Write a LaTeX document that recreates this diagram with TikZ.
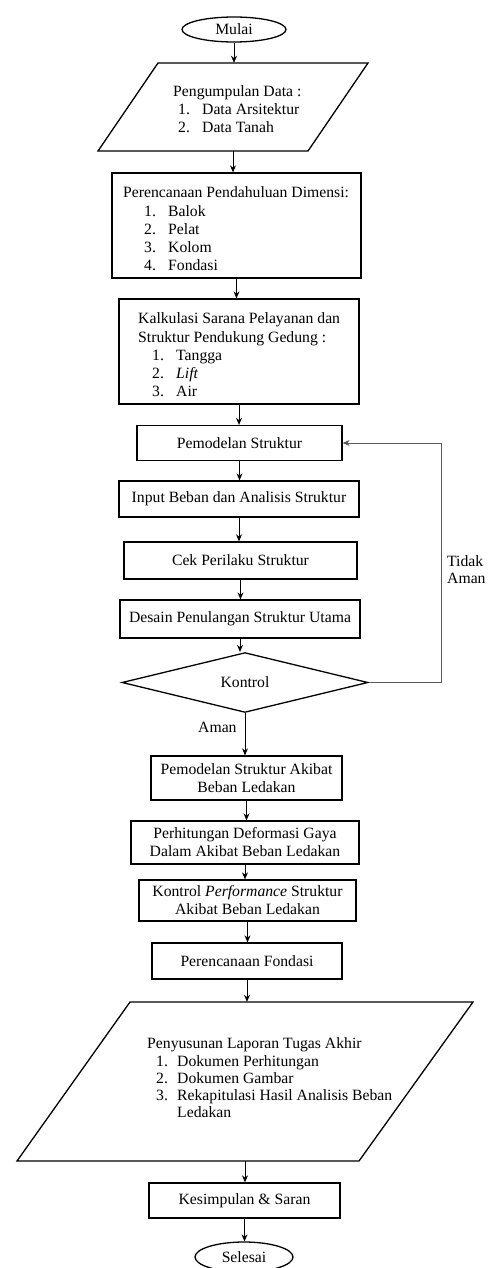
\documentclass[tikz,border=0pt]{standalone}
\usepackage{fontspec}
\setmainfont{Liberation Serif}
\usetikzlibrary{shapes.geometric,arrows.meta}
\begin{document}
\begin{tikzpicture}[x=1pt,y=-1pt,
  every node/.style={font=\fontsize{15.7}{18}\selectfont, inner sep=0pt},
  box/.style={draw, rectangle, line width=1.3pt, align=center},
  term/.style={draw, ellipse, line width=1.3pt},
  ghost/.style={rectangle, minimum width=150pt},
  pgram/.style={line width=1.3pt},
  arr/.style={-{Stealth[length=7pt,width=6pt]}, line width=0.9pt},
  fbline/.style={-{Stealth[length=7pt,width=6pt]}, line width=0.9pt, draw=black!65},
  lbl/.style={anchor=base west}
]
\useasboundingbox (0,0) rectangle (492,1268);

% Start
\node[term, minimum width=104pt, minimum height=25pt] (mulai) at (234,29.5) {Mulai};

% Parallelogram 1
\node[ghost, minimum height=88pt] (p1) at (233,107) {};
\draw[pgram] (158,63) -- (368,63) -- (308,151) -- (98,151) -- cycle;
\node[lbl] (p1h) at (173,97) {Pengumpulan Data :};
\node[lbl] (p1a) at (178,115) {\makebox[24pt][l]{1.}Data Arsitektur};
\node[lbl] (p1b) at (178,133) {\makebox[24pt][l]{2.}Data Tanah};

% Box 2
\node[box, minimum width=249pt, minimum height=105pt] (b2) at (236.5,225.5) {};
\node[lbl] (b2h) at (123,197) {Perencanaan Pendahuluan Dimensi:};
\node[lbl] (b2a) at (144,216) {\makebox[24pt][l]{1.}Balok};
\node[lbl] (b2b) at (144,234) {\makebox[24pt][l]{2.}Pelat};
\node[lbl] (b2c) at (144,252) {\makebox[24pt][l]{3.}Kolom};
\node[lbl] (b2d) at (144,270) {\makebox[24pt][l]{4.}Fondasi};

% Box 3
\node[box, minimum width=240pt, minimum height=105pt] (b3) at (239,351.5) {};
\node[lbl] (b3h) at (138,323) {Kalkulasi Sarana Pelayanan dan};
\node[lbl] (b3i) at (138,342) {Struktur Pendukung Gedung :};
\node[lbl] (b3a) at (152,360) {\makebox[24pt][l]{1.}Tangga};
\node[lbl] (b3b) at (152,378) {\makebox[24pt][l]{2.}\textit{Lift}};
\node[lbl] (b3c) at (152,396) {\makebox[24pt][l]{3.}Air};

% Single boxes
\node[box, minimum width=205pt, minimum height=35pt] (pem) at (239.5,443) {Pemodelan Struktur};
\node[box, minimum width=240pt, minimum height=36pt] (inp) at (239,499) {Input Beban dan Analisis Struktur};
\node[box, minimum width=233pt, minimum height=37pt] (cek) at (240.5,560.5) {Cek Perilaku Struktur};
\node[box, minimum width=240pt, minimum height=38pt] (des) at (240,619) {Desain Penulangan Struktur Utama};
\node[draw, diamond, line width=1.3pt, minimum width=246pt, minimum height=45pt] (kon) at (245,682.5) {Kontrol};
\node[box, minimum width=191pt, minimum height=44pt] (ps) at (246.5,778) {Pemodelan Struktur Akibat\\Beban Ledakan};
\node[box, minimum width=228pt, minimum height=43pt] (ph) at (245,842.5) {Perhitungan Deformasi Gaya\\Dalam Akibat Beban Ledakan};
\node[box, minimum width=217pt, minimum height=41pt] (kp) at (247.5,900.5) {Kontrol \textit{Performance} Struktur\\Akibat Beban Ledakan};
\node[box, minimum width=190pt, minimum height=36pt] (fon) at (247,961) {Perencanaan Fondasi};

% Parallelogram 2
\node[ghost, minimum height=159pt] (p2) at (245,1081.5) {};
\draw[pgram] (130,1002) -- (473,1002) -- (359,1161) -- (17,1161) -- cycle;
\node[lbl] (p2h) at (147,1048) {Penyusunan Laporan Tugas Akhir};
\node[lbl] (p2a) at (156,1066) {\makebox[21pt][l]{1.}Dokumen Perhitungan};
\node[lbl] (p2b) at (156,1083) {\makebox[21pt][l]{2.}Dokumen Gambar};
\node[lbl] (p2c) at (156,1100) {\makebox[21pt][l]{3.}Rekapitulasi Hasil Analisis Beban};
\node[lbl] (p2d) at (177,1117) {Ledakan};

\node[box, minimum width=191pt, minimum height=35pt] (kes) at (244.5,1200.5) {Kesimpulan \& Saran};
\node[term, minimum width=98pt, minimum height=30pt] (sel) at (244,1257) {Selesai};

% Labels
\node[lbl] (tidak) at (447,566) {Tidak};
\node[lbl] (aman1) at (447,583) {Aman};
\node[lbl] (aman2) at (198,732) {Aman};

% Connectors
\draw[arr] (mulai.south) -- (mulai.south |- p1.north);
\draw[arr] (p1.south) -- (p1.south |- b2.north);
\draw[arr] (b2.south) -- (b2.south |- b3.north);
\draw[arr] (b3.south) -- (b3.south |- pem.north);
\draw[arr] (pem.south) -- (pem.south |- inp.north);
\draw[arr] (inp.south) -- (inp.south |- cek.north);
\draw[arr] (cek.south) -- (cek.south |- des.north);
\draw[arr] (des.south) -- (des.south |- kon.north);
\draw[arr] (kon.south) -- (kon.south |- ps.north);
\draw[arr] (ps.south) -- (ps.south |- ph.north);
\draw[arr] (ph.south) -- (ph.south |- kp.north);
\draw[arr] (kp.south) -- (kp.south |- fon.north);
\draw[arr] (fon.south) -- (fon.south |- p2.north);
\draw[arr] (p2.south) -- (p2.south |- kes.north);
\draw[arr] (kes.south) -- (kes.south |- sel.north);
\coordinate (fb) at (441,443);
\draw[fbline] (kon.east) -| (fb) -- (pem.east);
\end{tikzpicture}
\end{document}
